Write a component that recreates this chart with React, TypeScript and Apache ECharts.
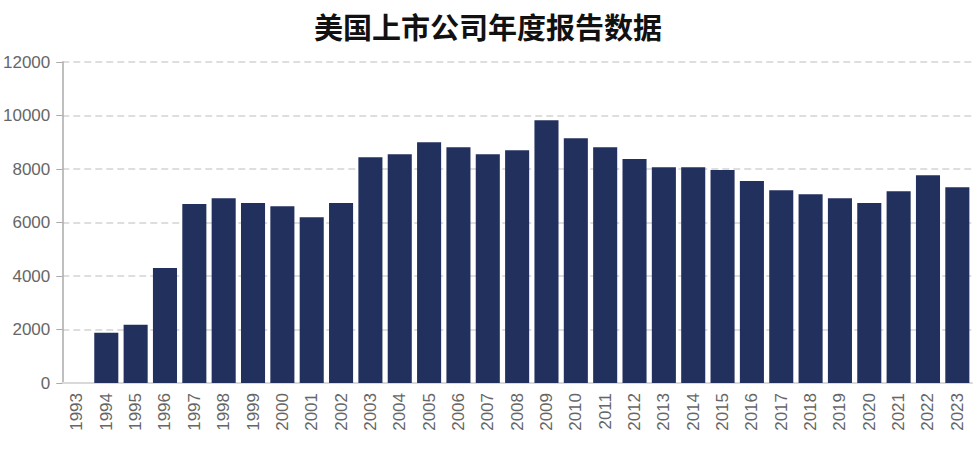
import React, { useEffect, useRef } from "react";
import * as echarts from "echarts";

const title = "美国上市公司年度报告数据";
const years = [
  "1993", "1994", "1995", "1996", "1997", "1998", "1999", "2000", "2001", "2002",
  "2003", "2004", "2005", "2006", "2007", "2008", "2009", "2010", "2011", "2012",
  "2013", "2014", "2015", "2016", "2017", "2018", "2019", "2020", "2021", "2022", "2023",
];
const reports = [
  0, 1880, 2180, 4300, 6690, 6910, 6730, 6610, 6200, 6730,
  8440, 8550, 9000, 8810, 8550, 8700, 9820, 9150, 8810, 8370,
  8070, 8070, 7960, 7550, 7210, 7060, 6910, 6730, 7170, 7770, 7320,
];

export default function App() {
  const ref = useRef<HTMLDivElement>(null);
  useEffect(() => {
    if (!ref.current) return;
    const chart = echarts.init(ref.current, undefined, { renderer: "svg" });
    chart.setOption({
      animation: false,
      backgroundColor: "#ffffff",
      title: {
        text: title,
        left: 309,
        top: 6,
        textStyle: {
          fontFamily: "Noto Sans CJK SC",
          fontSize: 29,
          fontWeight: "bold",
          color: "#111",
        },
      },
      grid: { left: 62, right: 7, top: 62, bottom: 70, containLabel: false },
      xAxis: {
        type: "category",
        data: years,
        boundaryGap: true,
        axisLine: { show: true, lineStyle: { color: "#d9d9d9", width: 2 } },
        axisTick: { show: false },
        axisLabel: {
          rotate: 90,
          interval: 0,
          margin: 10,
          color: "#666",
          fontSize: 17,
          fontFamily: "Liberation Sans",
        },
      },
      yAxis: {
        type: "value",
        min: 0,
        max: 12000,
        interval: 2000,
        axisLine: { show: true, lineStyle: { color: "#aaa", width: 1.5 } },
        axisTick: { show: true, length: 6, lineStyle: { color: "#aaa" } },
        axisLabel: {
          margin: 12,
          color: "#666",
          fontSize: 17,
          fontFamily: "Liberation Sans",
          formatter: (v: number) => String(v),
        },
        splitLine: {
          show: true,
          lineStyle: { color: "#d4d4d4", type: [7, 4], width: 1.5 },
        },
      },
      series: [
        {
          type: "bar",
          data: reports,
          barCategoryGap: "18%",
          itemStyle: { color: "#22305e" },
        },
      ],
    });
    return () => chart.dispose();
  }, []);
  return (
    <div
      ref={ref}
      style={{ position: "fixed", left: 0, top: 0, width: 979, height: 453 }}
    />
  );
}
